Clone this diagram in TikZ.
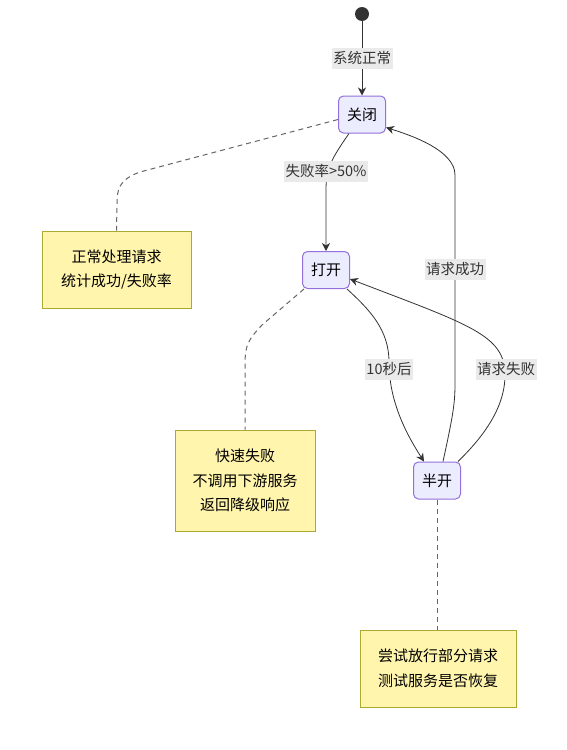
\documentclass[tikz,border=0pt]{standalone}
\usepackage{fontspec}
\setmainfont{Noto Sans CJK SC}
\usetikzlibrary{arrows.meta,calc}
\definecolor{stfill}{HTML}{ECECFF}
\definecolor{stdraw}{HTML}{9370DB}
\definecolor{notefill}{HTML}{FFF5AD}
\definecolor{notedraw}{HTML}{AAAA33}
\definecolor{edgec}{HTML}{333333}
\definecolor{lblbg}{HTML}{EAEAEA}
\begin{document}
\begin{tikzpicture}[x=1pt,y=-1pt,
 state/.style={draw=stdraw, fill=stfill, rounded corners=5pt, minimum width=47pt, minimum height=37pt, line width=1pt, font=\fontsize{15}{18}\selectfont, inner sep=0pt},
 note/.style={draw=notedraw, fill=notefill, line width=1pt, align=center, font=\fontsize{15}{24.5}\selectfont, inner sep=0pt},
 lbl/.style={fill=lblbg, text=edgec, font=\fontsize{14.5}{18}\selectfont, inner sep=1.5pt, minimum height=21pt},
 trans/.style={draw=edgec, line width=0.8pt, -{Stealth[length=8pt,width=8pt,inset=2.5pt]}},
 notelink/.style={draw=black!60, line width=1pt, dash pattern=on 5pt off 4pt}]
\useasboundingbox (0,0) rectangle (566,750);
\fill[white] (0,0) rectangle (566,750);

\node[circle, fill=edgec, minimum size=14pt, inner sep=0pt] (start) at (362,14) {};
\node[state] (closed) at (362,114.5) {关闭};
\node[state] (opened) at (326,270) {打开};
\node[state] (half) at (437,480.5) {半开};
\node[note, minimum width=149pt, minimum height=77pt] (n1) at (116.5,269.5) {正常处理请求\\统计成功/失败率};
\node[note, minimum width=140pt, minimum height=101pt] (n2) at (245,480.5) {快速失败\\不调用下游服务\\返回降级响应};
\node[note, minimum width=156pt, minimum height=77pt] (n3) at (438,668.5) {尝试放行部分请求\\测试服务是否恢复};

% transitions
\draw[trans] (start) -- node[lbl]{系统正常} (closed);
\draw[trans] ([xshift=11pt]closed.south west) .. controls (332,158) and (326,168) .. (326,190) -- (opened.north);
\node[lbl] (l1) at (326,171) {失败率>50\%};

\draw[trans] ([xshift=-3pt]opened.south east) .. controls (370,310) and (389,330) .. (389,362) .. controls (389,400) and (405,432) .. ([xshift=11pt]half.north west);
\node[lbl] (l2) at (389,369) {10秒后};

\draw[trans] ([xshift=6pt]half.north) .. controls (452,420) and (455,405) .. (455,385) -- (455,175) .. controls (455,150) and (410,135) .. ([yshift=6pt]closed.south east);
\node[lbl] (l3) at (455,269) {请求成功};

\draw[trans] ([xshift=-3pt]half.north east) .. controls (480,440) and (505,410) .. (505,375) .. controls (505,335) and (470,325) .. ([yshift=-9pt]opened.east);
\node[lbl] (l4) at (506,369) {请求失败};

% note links
\draw[notelink] ([yshift=-5pt]closed.west) -- (140,172) .. controls (118,180) and (117,190) .. (117,205) -- (n1.north);
\draw[notelink] ([xshift=2pt]opened.south west) -- (262,325) .. controls (248,340) and (245,345) .. (245,365) -- (n2.north);
\draw[notelink] (half.south) -- (half.south |- n3.north);
\end{tikzpicture}
\end{document}
